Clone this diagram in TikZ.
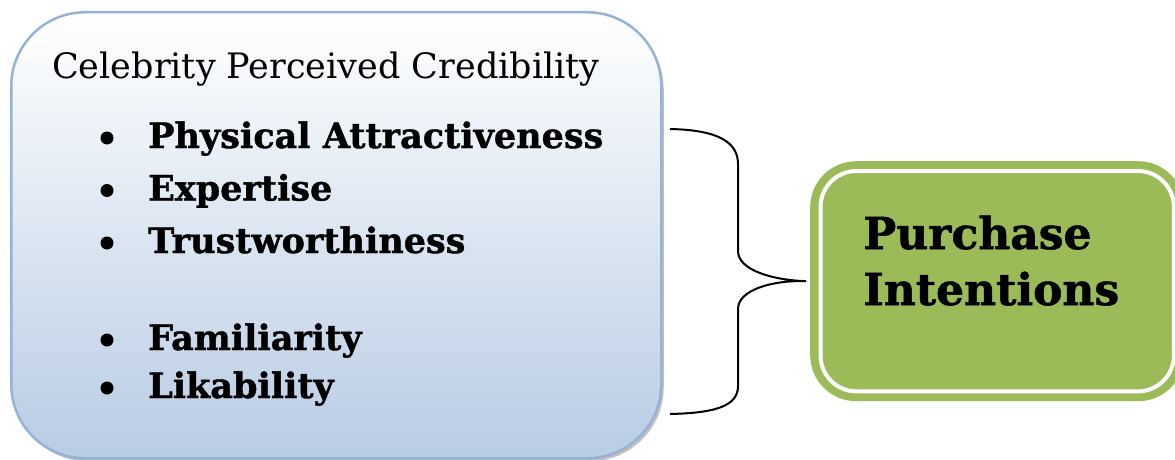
\documentclass[tikz,border=0pt]{standalone}
\usepackage{fontspec}
\setmainfont{DejaVu Serif}[BoldFeatures={FakeBold=1.2}]
\usetikzlibrary{shadows,calc}

\definecolor{credborder}{RGB}{149,179,215}
\definecolor{credbottom}{RGB}{184,204,228}
\definecolor{intentgreen}{RGB}{155,187,89}

\tikzset{
  credbox/.style={draw=credborder, line width=2.5pt, rounded corners=74pt,
    top color=white, bottom color=credbottom,
    minimum width=650pt, minimum height=446pt, inner sep=0pt,
    drop shadow={shadow xshift=2.5pt, shadow yshift=-3pt, fill=black!45, opacity=0.55}},
  titletext/.style={anchor=base west, inner sep=0pt, font=\fontsize{35}{42}\selectfont},
  itemtext/.style={anchor=base west, inner sep=0pt, font=\bfseries\fontsize{35}{42}\selectfont},
  bulletdot/.style={circle, fill=black, inner sep=0pt, minimum size=13pt},
  intentbox/.style={fill=intentgreen, rounded corners=46pt,
    minimum width=374pt, minimum height=240pt, inner sep=0pt},
  intenttext/.style={anchor=base west, inner sep=0pt, font=\bfseries\fontsize{44}{52}\selectfont},
  bracestroke/.style={draw=black, line width=2pt}
}

\begin{document}
\begin{tikzpicture}[x=1pt, y=-1pt]
  \useasboundingbox (0,0) rectangle (1175,460);

  % credibility box with its list
  \node[credbox, anchor=north west] (cred) at (10,11) {};
  \node[titletext] (title) at (52,78) {Celebrity Perceived Credibility};

  \node[bulletdot] (b1) at (107,138) {};
  \node[itemtext] (phys) at (148,148) {Physical Attractiveness};
  \node[bulletdot] (b2) at (107,190.5) {};
  \node[itemtext] (expe) at (148,200.5) {Expertise};
  \node[bulletdot] (b3) at (107,243) {};
  \node[itemtext] (trust) at (148,253) {Trustworthiness};
  \node[bulletdot] (b4) at (107,340) {};
  \node[itemtext] (fami) at (148,350) {Familiarity};
  \node[bulletdot] (b5) at (107,388) {};
  \node[itemtext] (like) at (148,398) {Likability};

  % purchase intentions box
  \node[intentbox, anchor=north west] (intent) at (810,161) {};
  \draw[white, line width=4pt, rounded corners=36pt]
    ($(intent.north west)+(10.5,10)$) rectangle ($(intent.south east)+(-10.5,-10)$);
  \node[intenttext] (purch) at (863,249) {Purchase};
  \node[intenttext] (intn) at (863,305) {Intentions};

  % curly brace joining the two boxes
  \coordinate (btop) at (670,129);
  \coordinate (bbot) at (670,414);
  \coordinate (btip) at ($(intent.west)+(-4,0)$);
  \draw[bracestroke]
    (btop) .. controls (718,130) and (738,142) .. (738,164)
    -- (738,251)
    .. controls (738,270) and (772,280) .. (btip)
    .. controls (772,280) and (738,290) .. (738,309)
    -- (738,386)
    .. controls (738,405) and (718,413) .. (bbot);
\end{tikzpicture}
\end{document}
